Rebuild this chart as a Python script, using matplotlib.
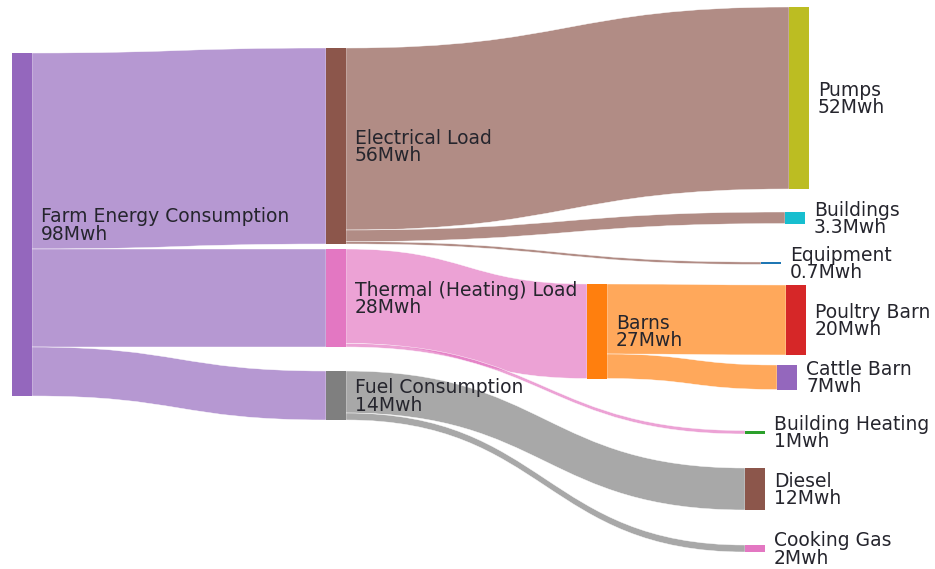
#!/usr/bin/env python3
"""Farm energy consumption Sankey diagram."""

import matplotlib.pyplot as plt
from matplotlib.path import Path
from matplotlib.patches import PathPatch, Rectangle
from matplotlib import colors as mcolors

NODES = [
    "Farm Energy Consumption", "Electrical Load", "Thermal (Heating) Load",
    "Fuel Consumption", "Pumps", "Buildings", "Equipment", "Barns",
    "Building Heating", "Poultry Barn", "Cattle Barn", "Diesel", "Cooking Gas",
]
LINK_SOURCE = [0, 0, 0, 1, 1, 1, 2, 2, 7, 7, 3, 3]
LINK_TARGET = [1, 2, 3, 4, 5, 6, 7, 8, 9, 10, 11, 12]
LINK_VALUE = [56, 28, 14, 52, 3.3, 0.7, 27, 1, 20, 7, 12, 2]
UNIT = "Mwh"

NODE_COLORS = [
    "#9467bd", "#8c564b", "#e377c2", "#7f7f7f", "#bcbd22", "#17becf",
    "#1f77b4", "#ff7f0e", "#2ca02c", "#d62728", "#9467bd", "#8c564b", "#e377c2",
]

# layout in pixels (node left edge, node top edge)
NODE_X = [12, 326, 326, 326, 789, 785, 761, 587, 745, 786, 777, 745, 745]
NODE_TOP = [53, 48, 249, 371, 7, 212, 262, 284, 430.5, 285, 365, 468, 545]
NODE_W = 20
SCALE = 3.5  # px per Mwh
LINK_ALPHA = 0.68


def node_values():
    vin = [0.0] * len(NODES)
    vout = [0.0] * len(NODES)
    for s, t, v in zip(LINK_SOURCE, LINK_TARGET, LINK_VALUE):
        vout[s] += v
        vin[t] += v
    return [max(a, b) for a, b in zip(vin, vout)]


def link_path(x0, x1, s0, t0, h):
    xm = (x0 + x1) / 2
    verts = [
        (x0, s0), (xm, s0), (xm, t0), (x1, t0),
        (x1, t0 + h),
        (xm, t0 + h), (xm, s0 + h), (x0, s0 + h),
        (x0, s0),
    ]
    codes = [Path.MOVETO, Path.CURVE4, Path.CURVE4, Path.CURVE4,
             Path.LINETO,
             Path.CURVE4, Path.CURVE4, Path.CURVE4,
             Path.CLOSEPOLY]
    return Path(verts, codes)


def main():
    fig = plt.figure(figsize=(9.35, 5.69), dpi=100)
    ax = fig.add_axes([0, 0, 1, 1])
    ax.set_xlim(0, 935)
    ax.set_ylim(569, 0)
    ax.axis("off")

    values = node_values()
    n_links = len(LINK_VALUE)

    # stack outgoing links by target position, incoming by source position
    out_off = {}
    in_off = {}
    for i in range(len(NODES)):
        outs = sorted([k for k in range(n_links) if LINK_SOURCE[k] == i],
                      key=lambda k: NODE_TOP[LINK_TARGET[k]])
        y = NODE_TOP[i]
        for k in outs:
            out_off[k] = y
            y += LINK_VALUE[k] * SCALE
        ins = sorted([k for k in range(n_links) if LINK_TARGET[k] == i],
                     key=lambda k: NODE_TOP[LINK_SOURCE[k]])
        y = NODE_TOP[i]
        for k in ins:
            in_off[k] = y
            y += LINK_VALUE[k] * SCALE

    for k in range(n_links):
        s, t = LINK_SOURCE[k], LINK_TARGET[k]
        rgb = mcolors.to_rgb(NODE_COLORS[s])
        path = link_path(NODE_X[s] + NODE_W, NODE_X[t], out_off[k], in_off[k],
                         LINK_VALUE[k] * SCALE)
        ax.add_patch(PathPatch(path, facecolor=(*rgb, LINK_ALPHA),
                               edgecolor="white", linewidth=0.3, zorder=1))

    for i, name in enumerate(NODES):
        h = values[i] * SCALE
        ax.add_patch(Rectangle((NODE_X[i], NODE_TOP[i]), NODE_W, h,
                               facecolor=NODE_COLORS[i], edgecolor="none",
                               zorder=2))
        ax.text(NODE_X[i] + NODE_W + 9, NODE_TOP[i] + h / 2 + 1,
                f"{name}\n{values[i]:g}{UNIT}", ha="left", va="center",
                fontsize=13.5, color="#25252d", linespacing=0.88,
                family="DejaVu Sans", zorder=3)

    fig.savefig("out.png", dpi=100)
    plt.close(fig)


if __name__ == "__main__":
    main()
